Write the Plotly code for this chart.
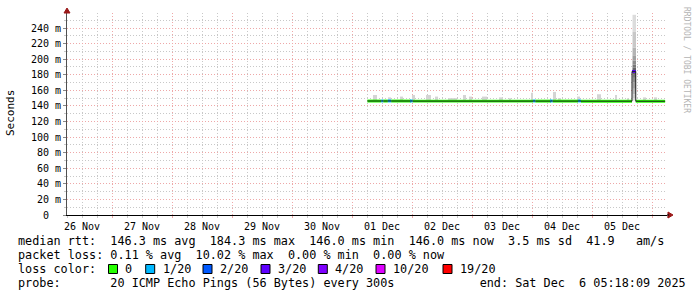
import plotly.graph_objects as go
from datetime import datetime

# ---------------- data ----------------
X_START = "2025-11-26 06:00"
X_END = "2025-12-06 06:00"

day_labels = ["26 Nov", "27 Nov", "28 Nov", "29 Nov", "30 Nov",
              "01 Dec", "02 Dec", "03 Dec", "04 Dec", "05 Dec"]
day_noons = ["2025-11-26 12:00", "2025-11-27 12:00", "2025-11-28 12:00",
             "2025-11-29 12:00", "2025-11-30 12:00", "2025-12-01 12:00",
             "2025-12-02 12:00", "2025-12-03 12:00", "2025-12-04 12:00",
             "2025-12-05 12:00"]
day_midnights = ["2025-11-27 00:00", "2025-11-28 00:00", "2025-11-29 00:00",
                 "2025-11-30 00:00", "2025-12-01 00:00", "2025-12-02 00:00",
                 "2025-12-03 00:00", "2025-12-04 00:00", "2025-12-05 00:00",
                 "2025-12-06 00:00"]

y_ticks = [0, 20, 40, 60, 80, 100, 120, 140, 160, 180, 200, 220, 240]
y_top = 259.3

# median rtt segments (ms) and loss (x/20)
seg_start = ["2025-12-01 06:10", "2025-12-01 11:40", "2025-12-01 12:30",
             "2025-12-01 14:20", "2025-12-01 15:40", "2025-12-01 23:35",
             "2025-12-02 00:15", "2025-12-04 00:25", "2025-12-04 01:20",
             "2025-12-04 07:35", "2025-12-04 08:15", "2025-12-04 18:25",
             "2025-12-04 19:35", "2025-12-05 16:00", "2025-12-05 17:30"]
seg_end = ["2025-12-01 11:40", "2025-12-01 12:30", "2025-12-01 14:20",
           "2025-12-01 15:40", "2025-12-01 23:35", "2025-12-02 00:15",
           "2025-12-04 00:25", "2025-12-04 01:20", "2025-12-04 07:35",
           "2025-12-04 08:15", "2025-12-04 18:25", "2025-12-04 19:35",
           "2025-12-05 16:00", "2025-12-05 17:30", "2025-12-06 05:15"]
seg_median = [146.3, 146.4, 146.3, 146.4, 146.3, 146.4, 146.2, 146.4, 146.2,
              146.4, 146.2, 146.4, 146.1, 184.3, 146.0]
seg_loss = [0, 1, 0, 1, 0, 1, 0, 1, 0, 1, 0, 1, 0, 3, 0]

# smoke (ping spread) bins
smoke_start = ["2025-12-01 08:24", "2025-12-01 14:24", "2025-12-01 19:12",
               "2025-12-02 00:00", "2025-12-02 05:36", "2025-12-02 09:12",
               "2025-12-02 14:24", "2025-12-02 20:24", "2025-12-02 22:48",
               "2025-12-03 04:00", "2025-12-03 10:48", "2025-12-03 14:48",
               "2025-12-03 23:36", "2025-12-04 08:24", "2025-12-04 10:24",
               "2025-12-04 18:00", "2025-12-05 02:00", "2025-12-05 09:12",
               "2025-12-05 14:00", "2025-12-05 20:24", "2025-12-06 00:48"]
smoke_end = ["2025-12-01 10:00", "2025-12-01 15:36", "2025-12-01 20:24",
             "2025-12-02 01:12", "2025-12-02 07:36", "2025-12-02 10:24",
             "2025-12-02 18:00", "2025-12-02 21:36", "2025-12-03 00:00",
             "2025-12-03 06:00", "2025-12-03 12:24", "2025-12-03 15:36",
             "2025-12-04 00:24", "2025-12-04 09:36", "2025-12-04 11:36",
             "2025-12-04 19:12", "2025-12-05 03:36", "2025-12-05 10:00",
             "2025-12-05 14:48", "2025-12-05 21:36", "2025-12-06 02:00"]
smoke_low = [146.0, 146.0, 146.0, 146.0, 146.0, 146.0, 146.0, 146.0, 146.0,
             146.0, 146.0, 146.0, 146.0, 146.0, 146.0, 146.0, 146.0, 146.0,
             146.0, 146.0, 146.0]
smoke_high = [154, 151, 152, 154, 154, 152, 150, 154, 152, 152, 151, 150,
              157, 158, 150, 152, 155, 154, 150, 151, 151]

# the spike: sorted pings of that bin (17 of 20 answered)
spike_start = "2025-12-05 16:12"
spike_end = "2025-12-05 17:36"
spike_pings = [147, 150, 155, 162, 170, 176, 180, 183, 184.3, 186, 189,
               193, 198, 205, 215, 235, 257]

loss_labels = ["0", "1/20", "2/20", "3/20", "4/20", "10/20", "19/20"]
loss_levels = [0, 1, 2, 3, 4, 10, 19]
loss_colors = ["#26ff00", "#00b8ff", "#0059ff", "#5e00ff", "#7e00ff",
               "#dd00ff", "#ff0000"]

text_rtt = ("median rtt:  146.3 ms avg  184.3 ms max  146.0 ms min  "
            "146.0 ms now  3.5 ms sd  41.9   am/s")
text_loss = "packet loss: 0.11 % avg  10.02 % max  0.00 % min  0.00 % now"
text_lc = "loss color:"
text_probe = ("probe:       20 ICMP Echo Pings (56 Bytes) every 300s"
              "            end: Sat Dec  6 05:18:09 2025")
text_side = "RRDTOOL / TOBI OETIKER"

# ---------------- layout constants ----------------
W, H = 697, 297
L, R, T, B = 67, 667, 13, 215
MONO = "DejaVu Sans Mono"
RED_GRID = "#eea8a8"
GREY_GRID = "#c8c8c8"
DASH = "1px,2px"


def px_x(px):
    return (px - L) / (R - L)


def px_y(py):
    return (B - py) / (B - T)


def ts(s):
    return datetime.strptime(s, "%Y-%m-%d %H:%M")


def mid(a, b):
    return ts(a) + (ts(b) - ts(a)) / 2


def dur_ms(a, b):
    return (ts(b) - ts(a)).total_seconds() * 1000.0


fig = go.Figure()

# smoke
fig.add_trace(go.Bar(
    x=[mid(a, b) for a, b in zip(smoke_start, smoke_end)],
    y=[h - l for l, h in zip(smoke_low, smoke_high)],
    base=smoke_low,
    width=[dur_ms(a, b) for a, b in zip(smoke_start, smoke_end)],
    marker=dict(color="#d4d4d4", line=dict(width=0)),
    hoverinfo="skip", showlegend=False))

# spike smoke, shaded darker toward the median
k = len(spike_pings)
cidx = (k - 1) / 2
maxd = cidx
sx, sy, sb, sc = [], [], [], []
for j in range(k - 1):
    d = abs(j + 0.5 - cidx) / maxd
    g = int(70 + 160 * d)
    sx.append(mid(spike_start, spike_end))
    sb.append(spike_pings[j])
    sy.append(spike_pings[j + 1] - spike_pings[j])
    sc.append(f"rgb({g},{g},{g})")
fig.add_trace(go.Bar(
    x=sx, y=sy, base=sb, width=[dur_ms(spike_start, spike_end)] * len(sx),
    marker=dict(color=sc, line=dict(width=0)),
    hoverinfo="skip", showlegend=False))

# thin median line
fig.add_trace(go.Scatter(
    x=[ts(s) for s in seg_start] + [ts(seg_end[-1])],
    y=seg_median + [seg_median[-1]],
    mode="lines", line=dict(color="#202020", width=1, shape="hv"),
    hoverinfo="skip", showlegend=False))

# loss coloured band around the median
HALF = 1.9
for lvl, col in zip(loss_levels, loss_colors):
    idx = [i for i, v in enumerate(seg_loss) if v == lvl]
    if not idx:
        continue
    fig.add_trace(go.Bar(
        x=[mid(seg_start[i], seg_end[i]) for i in idx],
        y=[2 * HALF] * len(idx),
        base=[seg_median[i] - HALF for i in idx],
        width=[dur_ms(seg_start[i], seg_end[i]) for i in idx],
        marker=dict(color=col, line=dict(width=0)),
        hoverinfo="skip", showlegend=False))

# invisible trace to hold the label axis
fig.add_trace(go.Scatter(x=[ts(X_START)], y=[0], xaxis="x2", mode="markers",
                         marker=dict(opacity=0), hoverinfo="skip",
                         showlegend=False))

y_text = ["0\u00a0\u00a0"] + [f"{v} m" for v in y_ticks[1:]]

fig.update_layout(
    width=W, height=H,
    margin=dict(l=L, r=W - R, t=T, b=H - B, pad=0),
    paper_bgcolor="white", plot_bgcolor="white",
    barmode="overlay",
    font=dict(family=MONO, size=10, color="#000000"),
    xaxis=dict(
        type="date", range=[X_START, X_END], fixedrange=True,
        tickmode="array", tickvals=day_midnights, showticklabels=False,
        showgrid=True, gridcolor=RED_GRID, griddash=DASH, gridwidth=1,
        ticks="outside", ticklen=2, tickcolor=RED_GRID,
        showline=True, linecolor="#000000", linewidth=1,
        zeroline=False,
        minor=dict(tick0="2025-11-26 00:00", dtick=6 * 3600 * 1000,
                   showgrid=True, gridcolor=GREY_GRID, griddash=DASH,
                   gridwidth=1, ticks="outside", ticklen=2,
                   tickcolor=GREY_GRID),
    ),
    xaxis2=dict(
        type="date", range=[X_START, X_END], fixedrange=True,
        overlaying="x", side="bottom", anchor="y",
        tickmode="array", tickvals=day_noons, ticktext=day_labels,
        showgrid=False, ticks="", showline=False, zeroline=False,
        ticklabelstandoff=4,
        tickfont=dict(family=MONO, size=10, color="#000000"),
    ),
    yaxis=dict(
        range=[0, y_top], fixedrange=True,
        tickmode="array", tickvals=y_ticks, ticktext=y_text,
        showgrid=True, gridcolor=RED_GRID, griddash=DASH, gridwidth=1,
        ticks="outside", ticklen=3, tickcolor="#888888",
        showline=True, linecolor="#505050", linewidth=1,
        zeroline=False,
        tickfont=dict(family=MONO, size=10, color="#000000"),
        minor=dict(dtick=10, tick0=0, showgrid=True, gridcolor=GREY_GRID,
                   griddash=DASH, gridwidth=1, ticks="outside", ticklen=2,
                   tickcolor=GREY_GRID),
    ),
)

ann = []
ann.append(dict(text="Seconds", x=px_x(10), y=px_y(113), xref="paper",
                yref="paper", showarrow=False, textangle=-90,
                font=dict(family=MONO, size=11, color="#000000"),
                xanchor="center", yanchor="middle"))
ann.append(dict(text=text_side, x=px_x(687), y=px_y(60), xref="paper",
                yref="paper", showarrow=False, textangle=90,
                font=dict(family=MONO, size=8, color="#b4b4b4"),
                xanchor="center", yanchor="middle"))

LEG = 11.8
for txt, py in [(text_rtt, 241), (text_loss, 255), (text_lc, 269),
                (text_probe, 283)]:
    ann.append(dict(text=txt.replace(" ", "\u00a0"), x=px_x(16), y=px_y(py),
                    xref="paper", yref="paper", showarrow=False,
                    xanchor="left", yanchor="middle",
                    font=dict(family=MONO, size=LEG, color="#000000")))

square_x = [108.5, 145.7, 203.0, 261.0, 318.3, 376.0, 443.0]
shapes = []
for sxp, lab, col in zip(square_x, loss_labels, loss_colors):
    shapes.append(dict(type="rect", xref="paper", yref="paper",
                       x0=px_x(sxp), x1=px_x(sxp + 9),
                       y0=px_y(273.5), y1=px_y(264.5),
                       fillcolor=col, line=dict(color="#000000", width=1)))
    ann.append(dict(text=lab, x=px_x(sxp + 14.8), y=px_y(269),
                    xref="paper", yref="paper", showarrow=False,
                    xanchor="left", yanchor="middle",
                    font=dict(family=MONO, size=LEG, color="#000000")))

# axis arrows
shapes.append(dict(type="path", xref="paper", yref="paper",
                   xsizemode="pixel", ysizemode="pixel", xanchor=0, yanchor=1,
                   path="M -3 0 L 3 0 L 0 5 Z", fillcolor="#9a1818",
                   line=dict(color="#9a1818", width=1)))
shapes.append(dict(type="path", xref="paper", yref="paper",
                   xsizemode="pixel", ysizemode="pixel", xanchor=1, yanchor=0,
                   path="M 1 -3 L 1 3 L 6 0 Z", fillcolor="#9a1818",
                   line=dict(color="#9a1818", width=1)))
shapes.append(dict(type="line", xref="paper", yref="paper",
                   xsizemode="pixel", xanchor=1, x0=0, x1=2, y0=0, y1=0,
                   line=dict(color="#000000", width=1)))

fig.update_layout(annotations=ann, shapes=shapes)
fig.write_html("out.html", config={"displayModeBar": False})
